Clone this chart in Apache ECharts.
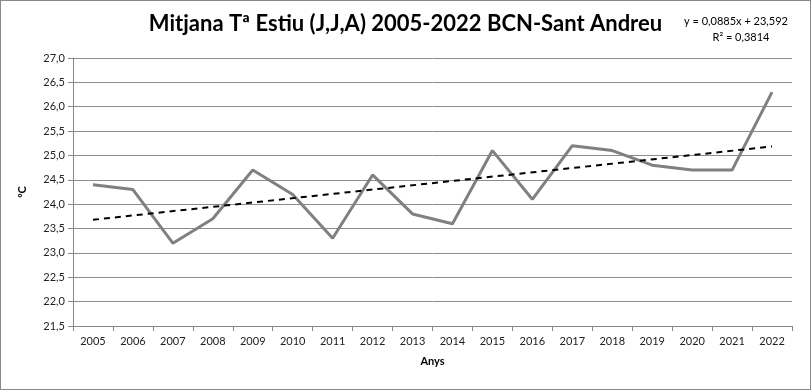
<!DOCTYPE html>
<html><head><meta charset="utf-8">
<script src="https://cdn.jsdelivr.net/npm/echarts@6/dist/echarts.min.js"></script>
<style>html,body{margin:0;padding:0;background:#fff}#c{width:811px;height:390px;box-sizing:border-box;border:1px solid #888}</style>
</head><body><div id="c"></div>
<script>
const years = ['2005','2006','2007','2008','2009','2010','2011','2012','2013','2014','2015','2016','2017','2018','2019','2020','2021','2022'];
const temps = [24.4,24.3,23.2,23.7,24.7,24.2,23.3,24.6,23.8,23.6,25.1,24.1,25.2,25.1,24.8,24.7,24.7,26.3];
const trendEnds = [['2005',23.68],['2022',25.185]];
const yTicks = {min:21.5,max:27.0,step:0.5};
const titleText = 'Mitjana Tª Estiu (J,J,A) 2005-2022 BCN-Sant Andreu';
const eqLines = ['y = 0,0885x + 23,592','R² = 0,3814'];

const chart = echarts.init(document.getElementById('c'));
const font = 'Lato, "Open Sans", sans-serif';
chart.setOption({
  animation:false,
  textStyle:{fontFamily:font},
  graphic:[
    {type:'text',left:'center',x:0,top:12,style:{text:titleText,font:'bold 22px '+font,fill:'#000'}},
    {type:'text',x:735,y:20,style:{text:eqLines[0],font:'11px '+font,fill:'#000',align:'center',verticalAlign:'middle'}},
    {type:'text',x:740,y:36,style:{text:eqLines[1],font:'11px '+font,fill:'#000',align:'center',verticalAlign:'middle'}}
  ],
  grid:{left:72,right:18,top:57,bottom:63},
  xAxis:{type:'category',data:years,boundaryGap:true,
    name:'Anys',nameLocation:'middle',nameGap:30,nameTextStyle:{fontWeight:'bold',fontSize:11,color:'#000'},
    axisLine:{lineStyle:{color:'#888',width:1}},
    axisTick:{show:true,alignWithLabel:false,length:5,lineStyle:{color:'#888'}},
    axisLabel:{fontSize:11,color:'#222',margin:10}},
  yAxis:{type:'value',min:yTicks.min,max:yTicks.max,interval:yTicks.step,
    name:'ºC',nameLocation:'middle',nameGap:45,nameRotate:90,nameTextStyle:{fontWeight:'bold',fontSize:11,color:'#000'},
    axisLine:{show:true,lineStyle:{color:'#888'}},
    axisTick:{show:true,length:5,lineStyle:{color:'#888'}},
    splitLine:{lineStyle:{color:'#8c8c8c',width:1}},
    axisLabel:{fontSize:11,color:'#222',margin:8,formatter:v=>v.toFixed(1).replace('.',',')}},
  series:[{type:'line',data:temps,symbol:'none',lineStyle:{color:'#808080',width:3},
    markLine:{symbol:'none',silent:true,label:{show:false},
      lineStyle:{type:[6,5],color:'#000',width:2},
      data:[[{coord:trendEnds[0]},{coord:trendEnds[1]}]]}}]
});
</script></body></html>
